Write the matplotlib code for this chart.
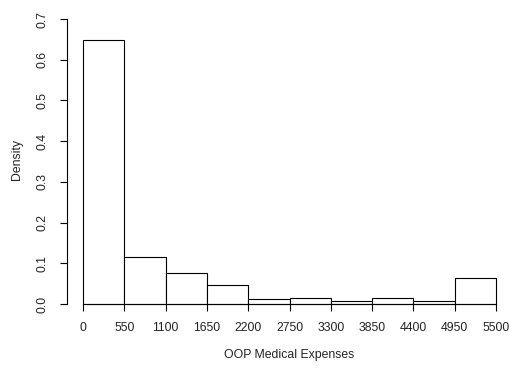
import numpy as np
import matplotlib
matplotlib.use('Agg')
import matplotlib.pyplot as plt

plt.rcParams['font.family'] = ['Liberation Sans', 'DejaVu Sans']

# bin edges and relative frequencies
bin_edges = [0, 550, 1100, 1650, 2200, 2750, 3300, 3850, 4400, 4950, 5500]
density = [0.648, 0.116, 0.075, 0.046, 0.0115, 0.0147, 0.0066, 0.0147, 0.0066, 0.0647]
y_ticks = [0.0, 0.1, 0.2, 0.3, 0.4, 0.5, 0.6, 0.7]

W, H = 510, 370
fig = plt.figure(figsize=(W / 100, H / 100), dpi=100)

# axes placed so that data->pixel mapping matches the reference
x0_px, x1_px = 66.7, 503.5
y_top_px, y_bot_px = 7.6, 315.4
ax = fig.add_axes([x0_px / W, (H - y_bot_px) / H,
                   (x1_px - x0_px) / W, (y_bot_px - y_top_px) / H])

edges = np.array(bin_edges)
ax.bar(edges[:-1], density, width=np.diff(edges), align='edge',
       facecolor='white', edgecolor='black', linewidth=0.8)

ax.set_xlim(-220, 5600)
ax.set_ylim(-0.028, 0.728)

for s in ['top', 'right']:
    ax.spines[s].set_visible(False)
ax.spines['left'].set_bounds(0, 0.7)
ax.spines['bottom'].set_bounds(0, 5500)
ax.spines['bottom'].set_position(('data', 0))
for s in ['left', 'bottom']:
    ax.spines[s].set_linewidth(0.8)

ax.set_xticks(bin_edges)
ax.set_xticklabels([str(v) for v in bin_edges])
ax.set_yticks(y_ticks)
ax.set_yticklabels([f'{v:.1f}' for v in y_ticks], rotation=90, va='center')
ax.tick_params(axis='both', length=4.8, width=0.8, pad=8, labelsize=8.8,
               colors='black', labelcolor='#222222')

ax.set_xlabel('OOP Medical Expenses', fontsize=8.8, color='#222222')
ax.set_ylabel('Density', fontsize=8.8, color='#222222')
ax.xaxis.set_label_coords((289 - x0_px) / (x1_px - x0_px), (y_bot_px - 349) / (y_bot_px - y_top_px))
ax.yaxis.set_label_coords((23 - x0_px) / (x1_px - x0_px), (y_bot_px - 159) / (y_bot_px - y_top_px))

fig.savefig('out.png', dpi=100)
